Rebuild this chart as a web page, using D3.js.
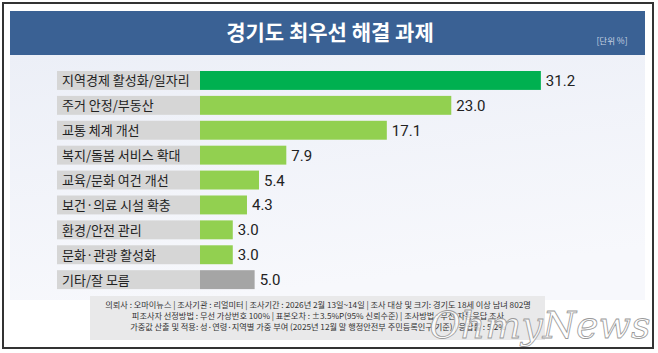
<!DOCTYPE html>
<html>
<head>
<meta charset="utf-8">
<script src="https://cdn.jsdelivr.net/npm/d3@7"></script>
<style>
  body { margin: 0; background: #fff; }
  svg { display: block; font-family: "Noto Sans CJK KR", "Noto Sans", sans-serif; }
</style>
</head>
<body>
<svg id="chart" width="658" height="353"></svg>
<script>
// data
const categories = ["지역경제 활성화/일자리", "주거 안정/부동산", "교통 체계 개선", "복지/돌봄 서비스 확대",
  "교육/문화 여건 개선", "보건·의료 시설 확충", "환경/안전 관리", "문화·관광 활성화", "기타/잘 모름"];
const values = [31.2, 23.0, 17.1, 7.9, 5.4, 4.3, 3.0, 3.0, 5.0];
const title = "경기도 최우선 해결 과제";
const unitLabel = "[단위 %]";
const footerLines = [
  "의뢰사 : 오마이뉴스 | 조사기관 : 리얼미터  | 조사기간 : 2026년 2월 13일~14일 | 조사 대상 및 크기: 경기도 18세 이상 남녀 802명",
  "피조사자 선정방법 : 무선 가상번호 100% | 표본오차 : ±3.5%P(95% 신뢰수준) | 조사방법 : 무선 자동응답 조사",
  "가중값 산출 및 적용: 성·연령·지역별 가중 부여 (2025년 12월 말 행정안전부 주민등록인구 기준) | 응답률 : 5.2%"
];

const svg = d3.select("#chart");

// outer frame
svg.append("rect").attr("x", 3).attr("y", 3).attr("width", 650).attr("height", 345)
  .attr("fill", "#fff").attr("stroke", "#333").attr("stroke-width", 2);

// soft background panel
let grad = svg.append("defs").append("linearGradient").attr("id", "bg")
  .attr("x1", 0).attr("y1", 0).attr("x2", 0.3).attr("y2", 1);
grad.append("stop").attr("offset", "0%").attr("stop-color", "#eceff7");
grad.append("stop").attr("offset", "100%").attr("stop-color", "#f7f8fc");
svg.append("rect").attr("x", 10).attr("y", 55).attr("width", 635).attr("height", 245).attr("fill", "url(#bg)");

// title bar
svg.append("rect").attr("x", 10).attr("y", 11).attr("width", 635).attr("height", 44).attr("fill", "#3a6194");
svg.append("text").attr("x", 330).attr("y", 40).attr("text-anchor", "middle")
  .attr("fill", "#fff").attr("font-size", 21).attr("font-weight", 700).text(title);
svg.append("text").attr("x", 612).attr("y", 44).attr("text-anchor", "middle")
  .attr("fill", "#c9d3e3").attr("font-size", 8.5).text(unitLabel);

// scales
let x = d3.scaleLinear().domain([0, 40]).range([200, 637]);
let y = d3.scaleBand().domain(categories).range([68, 292.1]).paddingInner(0.24).paddingOuter(0.12);

function barColor(d, i) {
  if (i === 0) return "#00b050";
  if (i === categories.length - 1) return "#a5a5a5";
  return "#92d050";
}

let rows = svg.append("g").selectAll("g").data(categories).join("g");

// grey label strip
rows.append("rect")
  .attr("x", 57).attr("y", d => y(d))
  .attr("width", x(0) - 57).attr("height", y.bandwidth())
  .attr("fill", "#d6d6d6");

rows.append("text")
  .attr("x", 62).attr("y", d => y(d) + y.bandwidth() / 2 + 5)
  .attr("font-size", 13).attr("fill", "#222")
  .text(d => d);

// value bars
rows.append("rect")
  .attr("x", x(0)).attr("y", d => y(d))
  .attr("width", (d, i) => x(values[i]) - x(0)).attr("height", y.bandwidth())
  .attr("fill", barColor);

rows.append("text")
  .attr("x", (d, i) => x(values[i]) + 5).attr("y", d => y(d) + y.bandwidth() / 2 + 5.5)
  .attr("font-family", "Roboto, sans-serif").attr("font-size", 15).attr("fill", "#222")
  .text((d, i) => values[i].toFixed(1));

// footer box
svg.append("rect").attr("x", 90).attr("y", 296).attr("width", 455).attr("height", 44).attr("fill", "#e9e9ea");
svg.append("g").selectAll("text").data(footerLines).join("text")
  .attr("x", 318).attr("y", (d, i) => 308 + i * 11)
  .attr("text-anchor", "middle").attr("font-size", 8.2).attr("fill", "#333")
  .text(d => d);

// watermark
svg.append("text").attr("x", 540).attr("y", 338).attr("text-anchor", "middle")
  .attr("font-family", "DejaVu Serif, serif").attr("font-style", "italic").attr("font-size", 38)
  .attr("fill", "#fff").attr("fill-opacity", 0.8).attr("stroke", "#999").attr("stroke-width", 0.8)
  .text("OhmyNews");
</script>
</body>
</html>
